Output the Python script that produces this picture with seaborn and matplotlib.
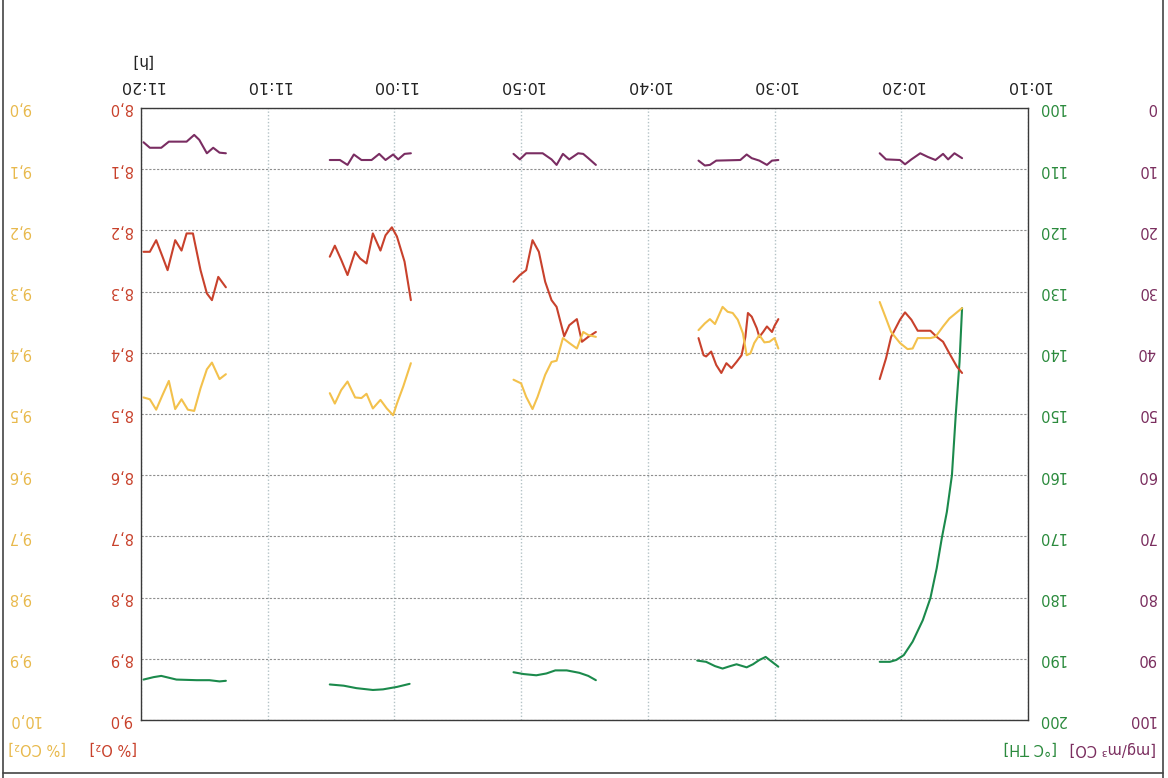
import pandas as pd
import matplotlib.pyplot as plt
from matplotlib.lines import Line2D
import seaborn as sns

# minutes after 10:10, one inner list per recording burst
temp_times = [[5.2, 5.4, 5.7, 6.0, 6.4, 6.8, 7.2, 7.7, 8.3, 9.1, 9.8, 10.4, 10.9, 11.7],
              [19.7, 20.2, 20.7, 21.2, 21.7, 22.2, 23.0, 23.5, 24.1, 24.7, 25.4, 26.1],
              [34.1, 34.7, 35.4, 36.4, 37.3, 38.0, 38.8, 39.8, 40.6],
              [48.8, 49.8, 50.9, 51.7, 53.0, 54.0, 55.1],
              [63.3, 63.8, 64.6, 65.6, 67.2, 68.4, 69.0, 69.8]]
temp_vals = [[132.7, 141.5, 150.2, 160.0, 166.0, 170.3, 175.2, 180.1, 183.7, 187.2, 189.4, 190.2, 190.5, 190.5],
             [191.3, 190.5, 189.7, 190.2, 190.9, 191.4, 190.9, 191.2, 191.6, 191.2, 190.5, 190.3],
             [193.5, 192.8, 192.3, 191.9, 191.9, 192.4, 192.7, 192.5, 192.2],
             [194.1, 194.6, 195.0, 195.1, 194.8, 194.4, 194.2],
             [193.6, 193.7, 193.5, 193.5, 193.4, 192.8, 193.0, 193.4]]

co_times = [[5.2, 5.8, 6.3, 6.7, 7.3, 7.9, 8.5, 9.2, 9.7, 10.1, 11.2, 11.7],
            [19.7, 20.2, 20.6, 21.2, 21.8, 22.2, 22.7, 24.6, 25.1, 25.5, 26.0],
            [34.1, 34.7, 35.1, 35.5, 36.2, 36.7, 37.2, 37.6, 38.3, 39.6, 40.1, 40.6],
            [48.7, 49.2, 49.7, 50.1, 50.7, 51.2, 51.8, 52.6, 53.2, 53.7, 54.3, 55.1],
            [63.3, 63.8, 64.3, 64.8, 65.4, 65.8, 66.4, 67.8, 68.4, 69.3, 69.8]]
co_vals = [[8.2, 7.4, 8.4, 7.5, 8.5, 8.0, 7.4, 8.4, 9.2, 8.5, 8.4, 7.4],
           [8.5, 8.6, 9.3, 8.6, 8.2, 7.6, 8.5, 8.6, 9.3, 9.4, 8.6],
           [9.3, 8.2, 7.5, 7.4, 8.4, 7.5, 9.3, 8.4, 7.4, 7.4, 8.4, 7.5],
           [7.4, 7.5, 8.4, 7.6, 8.5, 7.5, 8.5, 8.5, 7.6, 9.3, 8.5, 8.5],
           [7.4, 7.3, 6.5, 7.4, 5.2, 4.4, 5.5, 5.5, 6.5, 6.5, 5.6]]

o2_times = [[5.2, 5.6, 6.2, 6.7, 7.2, 7.7, 8.7, 9.2, 9.7, 10.1, 10.8, 11.2, 11.7],
            [19.7, 20.0, 20.2, 20.6, 20.9, 21.2, 21.4, 21.8, 22.1, 22.3, 22.6, 23.0, 23.4, 23.8, 24.2, 24.6,
             25.0, 25.4, 25.6, 26.0],
            [34.1, 34.7, 35.2, 35.6, 36.2, 36.6, 37.2, 37.6, 38.1, 38.6, 39.1, 39.6, 40.1, 40.6],
            [48.7, 49.2, 49.8, 50.2, 50.7, 51.1, 51.7, 52.2, 52.7, 53.1, 53.7, 54.2, 54.7, 55.1],
            [63.3, 63.9, 64.4, 64.8, 65.3, 65.9, 66.4, 66.8, 67.3, 67.9, 68.3, 68.8, 69.3, 69.8]]
o2_vals = [[8.433, 8.423, 8.401, 8.382, 8.374, 8.364, 8.364, 8.346, 8.334, 8.346, 8.374, 8.409, 8.443],
           [8.345, 8.356, 8.366, 8.357, 8.366, 8.374, 8.360, 8.341, 8.335, 8.374, 8.404, 8.415, 8.425, 8.417,
            8.433, 8.420, 8.398, 8.406, 8.404, 8.376],
           [8.366, 8.374, 8.382, 8.345, 8.355, 8.373, 8.325, 8.314, 8.284, 8.235, 8.216, 8.265, 8.273, 8.284],
           [8.314, 8.251, 8.210, 8.195, 8.208, 8.233, 8.205, 8.254, 8.246, 8.235, 8.273, 8.248, 8.225, 8.243],
           [8.293, 8.276, 8.314, 8.303, 8.265, 8.205, 8.205, 8.233, 8.216, 8.265, 8.243, 8.216, 8.235, 8.235]]

co2_times = [[5.2, 6.2, 6.7, 7.3, 7.7, 8.7, 9.1, 9.5, 10.1, 10.8, 11.2, 11.7],
             [19.7, 20.0, 20.4, 20.8, 21.2, 21.6, 21.9, 22.2, 22.5, 22.9, 23.3, 23.7, 24.1, 24.7, 25.1, 25.5, 26.0],
             [34.1, 34.7, 35.1, 35.6, 36.2, 36.7, 37.2, 37.6, 38.1, 38.7, 39.1, 39.6, 40.0, 40.6],
             [48.7, 49.3, 49.8, 50.1, 50.6, 51.1, 51.7, 52.2, 52.6, 53.1, 53.7, 54.2, 54.7, 55.1],
             [63.3, 63.8, 64.4, 64.8, 65.3, 65.8, 66.3, 66.8, 67.3, 67.8, 68.3, 68.8, 69.3, 69.8]]
co2_vals = [[9.327, 9.344, 9.357, 9.374, 9.376, 9.376, 9.393, 9.394, 9.384, 9.366, 9.344, 9.317],
            [9.393, 9.376, 9.382, 9.383, 9.371, 9.384, 9.401, 9.404, 9.368, 9.346, 9.335, 9.333, 9.325, 9.353,
             9.345, 9.352, 9.363],
            [9.374, 9.371, 9.366, 9.393, 9.384, 9.376, 9.413, 9.415, 9.436, 9.472, 9.492, 9.472, 9.450, 9.444],
            [9.417, 9.455, 9.483, 9.502, 9.491, 9.477, 9.491, 9.467, 9.474, 9.473, 9.447, 9.461, 9.483, 9.466],
            [9.435, 9.443, 9.416, 9.427, 9.458, 9.495, 9.493, 9.476, 9.492, 9.446, 9.469, 9.493, 9.476, 9.473]]

time_ticks = [0, 10, 20, 30, 40, 50, 60, 70]
time_labels = ['10:10', '10:20', '10:30', '10:40', '10:50', '11:00', '11:10', '11:20']
temp_ticks = [100, 110, 120, 130, 140, 150, 160, 170, 180, 190, 200]
co_ticks = [0, 10, 20, 30, 40, 50, 60, 70, 80, 90, 100]
o2_ticks = [8.0, 8.1, 8.2, 8.3, 8.4, 8.5, 8.6, 8.7, 8.8, 8.9, 9.0]
co2_ticks = [9.0, 9.1, 9.2, 9.3, 9.4, 9.5, 9.6, 9.7, 9.8, 9.9, 10.0]

GREEN, PURPLE, RED, YELLOW = '#1b8a4c', '#7a2d62', '#c8412c', '#f3c14c'


def bursts(times, vals):
    rows = []
    for i, (ts, vs) in enumerate(zip(times, vals)):
        rows += [(t, v, i) for t, v in zip(ts, vs)]
    return pd.DataFrame(rows, columns=['minute', 'value', 'burst'])


def fmt(ticks):
    return [f'{t:.1f}'.replace('.', ',') for t in ticks]


sns.set_theme(style='white')
plt.rcParams['font.family'] = ['DejaVu Sans']

fig = plt.figure(figsize=(11.68, 7.78), dpi=100)
ax = fig.add_axes([0.1207, 0.0746, 0.7594, 0.7866])
ax_co = ax.twinx()
ax_o2 = ax.twinx()
ax_co2 = ax.twinx()

# the sheet is shown upside down: time runs right-to-left, values top-to-bottom
line_kw = dict(x='minute', y='value', units='burst', estimator=None, sort=False, lw=1.5, legend=False)
sns.lineplot(data=bursts(temp_times, temp_vals), color=GREEN, ax=ax, **line_kw)
sns.lineplot(data=bursts(co_times, co_vals), color=PURPLE, ax=ax_co, **line_kw)
sns.lineplot(data=bursts(co2_times, co2_vals), color=YELLOW, ax=ax_co2, **line_kw)
sns.lineplot(data=bursts(o2_times, o2_vals), color=RED, ax=ax_o2, **line_kw)

ax.set_xlim(70, 0)
ax.set_ylim(200, 100)
ax_co.set_ylim(100, 0)
ax_o2.set_ylim(9.0, 8.0)
ax_co2.set_ylim(10.0, 9.0)

ax.xaxis.grid(True, color='#b3c2c6', ls=(0, (1, 1.5)), lw=1.0)
ax.yaxis.grid(True, color='#8e8e8e', ls=(0, (2, 1.5)), lw=0.8)
for s in ax.spines.values():
    s.set_color('#3a3a3a')
    s.set_linewidth(1.0)
for a in (ax_co, ax_o2, ax_co2):
    for s in a.spines.values():
        s.set_visible(False)

# time axis on top
ax.xaxis.tick_top()
ax.set_xticks(time_ticks, time_labels, rotation=180, fontsize=11.5, color='#222222')
ax.tick_params(axis='x', length=0, pad=11)
ax.xaxis.set_label_position('top')
ax.set_xlabel('[h]', rotation=180, fontsize=11, color='#222222', ha='center', va='center')
ax.xaxis.set_label_coords(0.0, 1.078)

# temperature / CO on the right
ax.yaxis.tick_right()
ax.set_yticks(temp_ticks, [str(t) for t in temp_ticks], rotation=180, fontsize=10.5,
              color='#2a8a3c', va='center')
ax.tick_params(axis='y', length=0, pad=7)
ax_co.yaxis.tick_right()
ax_co.spines['right'].set_position(('outward', 89))
ax_co.set_yticks(co_ticks, [str(t) for t in co_ticks], rotation=180, fontsize=10.5,
                 color='#7a2d5e', ha='right', va='center')
ax_co.tick_params(axis='y', length=0, pad=3)

# O2 / CO2 on the left
ax_o2.yaxis.tick_left()
ax_o2.set_yticks(o2_ticks, fmt(o2_ticks), rotation=180, fontsize=10.5,
                 color='#c8402a', va='center')
ax_o2.tick_params(axis='y', length=0, pad=6.5)
ax_co2.yaxis.tick_left()
ax_co2.spines['left'].set_position(('outward', 96))
ax_co2.set_yticks(co2_ticks, fmt(co2_ticks), rotation=180, fontsize=10.5,
                  color='#e8b94c', ha='left', va='center')
ax_co2.tick_params(axis='y', length=0, pad=0)

# unit captions under the axes columns
cap = dict(rotation=180, rotation_mode='default', fontsize=10.5, va='center')
ax.set_ylabel('[°C TH]', color='#2a8a3c', ha='left', **cap)
ax.yaxis.set_label_coords(0.972, -0.046)
ax_co.set_ylabel('[mg/m³ CO]', color='#7a2d5e', ha='right', **cap)
ax_co.yaxis.set_label_coords(1.144, -0.046)
ax_o2.set_ylabel('[% O₂]', color='#c8402a', ha='right', **cap)
ax_o2.yaxis.set_label_coords(-0.005, -0.046)
ax_co2.set_ylabel('[% CO₂]', color='#e8b94c', ha='left', **cap)
ax_co2.yaxis.set_label_coords(-0.150, -0.046)

# scanned sheet border
for xs, ys in [([0.0026, 0.0026], [0.0, 1.0]), ([0.9957, 0.9957], [0.0, 1.0]),
               ([0.0026, 0.9957], [0.0064, 0.0064])]:
    fig.add_artist(Line2D(xs, ys, transform=fig.transFigure, color='#444444', lw=1.2))

fig.savefig('out.png', dpi=100)
